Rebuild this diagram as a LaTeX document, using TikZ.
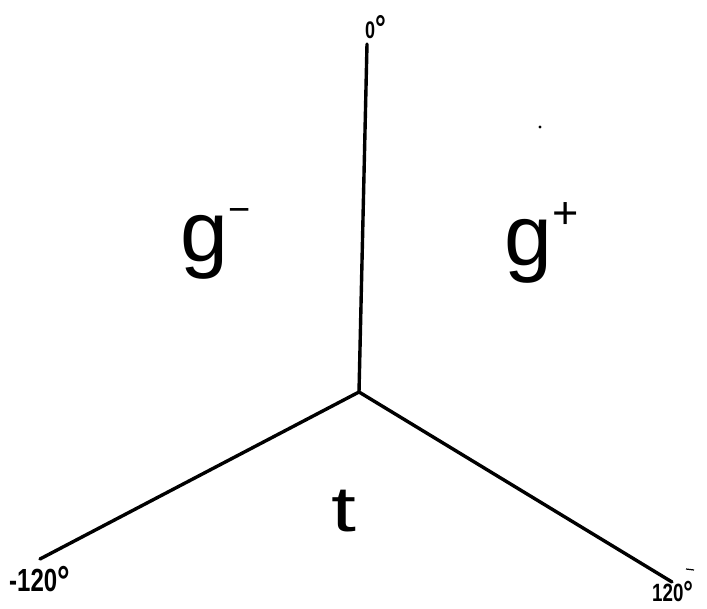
\documentclass[tikz,border=0pt]{standalone}
\usepackage{fontspec}
\setmainfont{Liberation Sans}
\newfontfamily\labfont[FakeStretch=0.75]{Liberation Sans Bold}
\newcommand\bigdeg[2]{\raisebox{#2}{\fontsize{#1}{#1}\selectfont°}}
\begin{document}
\begin{tikzpicture}[x=1pt,y=-1pt,
  axis/.style={line width=3.4pt,line cap=round},
  deg/.style={inner sep=0pt,font=\labfont},
  region/.style={inner sep=0pt,font=\fontsize{86}{86}\selectfont}]
\useasboundingbox[fill=white] (0,0) rectangle (707,609);
\coordinate (O) at (359,392);
\coordinate (T) at (367,44);
\coordinate (L) at (40,559);
\coordinate (R) at (672,582);
\draw[axis] (O) -- (T);
\draw[axis] (O) -- (L);
\draw[axis] (O) -- (R);
\node[deg,anchor=base west,font=\labfont\fontsize{24}{24}\selectfont] (l0) at (365,39) {0\bigdeg{36}{-2pt}};
\node[deg,anchor=base west,font=\labfont\fontsize{32}{32}\selectfont] (l1) at (9,591) {-120\bigdeg{42}{-4pt}};
\node[deg,anchor=base west,font=\labfont\fontsize{25}{25}\selectfont] (l2) at (652,601) {120\bigdeg{32}{-2pt}};
\node[region,anchor=base west] (gm) at (180,262) {g\raisebox{0.46em}{\fontsize{38}{38}\selectfont −}};
\node[region,anchor=base west] (gp) at (504,266) {g\raisebox{0.44em}{\fontsize{45}{45}\selectfont +}};
\node[region,anchor=base west,font=\fontsize{64}{64}\selectfont] (t) at (331,531) {\scalebox{1.4}[1]{t}};
\fill (540,127) circle (1.6);
\draw[line width=1.2pt] (686,569) -- (694,570);
\end{tikzpicture}
\end{document}
